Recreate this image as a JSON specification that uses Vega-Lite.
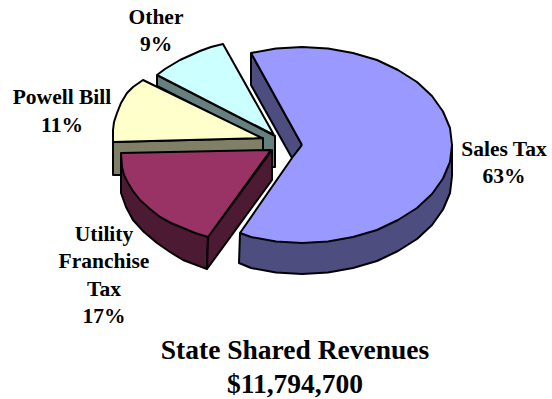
{
  "$schema": "https://vega.github.io/schema/vega-lite/v6.json",
  "width": 552,
  "height": 399,
  "padding": 0,
  "autosize": "none",
  "background": "white",
  "view": {"stroke": null},
  "datasets": {
    "outlines": [
      {"part":"Other wall","seq":1,"x":157,"y":75},{"part":"Other wall","seq":2,"x":157,"y":86},{"part":"Other wall","seq":3,"x":263,"y":140},{"part":"Other wall","seq":4,"x":263,"y":167},{"part":"Other wall","seq":5,"x":275,"y":167},{"part":"Other wall","seq":6,"x":275,"y":136},{"part":"Other wall","seq":7,"x":157,"y":75},
      {"part":"Other","seq":1,"x":274,"y":135},{"part":"Other","seq":2,"x":223,"y":44},{"part":"Other","seq":3,"x":211,"y":47},{"part":"Other","seq":4,"x":200,"y":51},{"part":"Other","seq":5,"x":180,"y":60},{"part":"Other","seq":6,"x":165,"y":69},{"part":"Other","seq":7,"x":157,"y":75},{"part":"Other","seq":8,"x":274,"y":135},
      {"part":"Powell Bill wall","seq":1,"x":113,"y":142},{"part":"Powell Bill wall","seq":2,"x":113,"y":175},{"part":"Powell Bill wall","seq":3,"x":263,"y":175},{"part":"Powell Bill wall","seq":4,"x":263,"y":138},{"part":"Powell Bill wall","seq":5,"x":113,"y":142},
      {"part":"Powell Bill","seq":1,"x":262,"y":138},{"part":"Powell Bill","seq":2,"x":143,"y":80},{"part":"Powell Bill","seq":3,"x":133,"y":87},{"part":"Powell Bill","seq":4,"x":127,"y":93},{"part":"Powell Bill","seq":5,"x":121,"y":103},{"part":"Powell Bill","seq":6,"x":117,"y":113},{"part":"Powell Bill","seq":7,"x":114,"y":122},{"part":"Powell Bill","seq":8,"x":113,"y":130},{"part":"Powell Bill","seq":9,"x":113,"y":142},{"part":"Powell Bill","seq":10,"x":262,"y":138},
      {"part":"Utility rim","seq":1,"x":121,"y":153},{"part":"Utility rim","seq":2,"x":121,"y":193},{"part":"Utility rim","seq":3,"x":126,"y":207},{"part":"Utility rim","seq":4,"x":133,"y":220},{"part":"Utility rim","seq":5,"x":144,"y":232},{"part":"Utility rim","seq":6,"x":157,"y":243},{"part":"Utility rim","seq":7,"x":170,"y":252},{"part":"Utility rim","seq":8,"x":183,"y":260},{"part":"Utility rim","seq":9,"x":207,"y":269},{"part":"Utility rim","seq":10,"x":208,"y":237},{"part":"Utility rim","seq":11,"x":121,"y":153},
      {"part":"Utility wall","seq":1,"x":208,"y":237},{"part":"Utility wall","seq":2,"x":207,"y":269},{"part":"Utility wall","seq":3,"x":272,"y":180},{"part":"Utility wall","seq":4,"x":272,"y":150},{"part":"Utility wall","seq":5,"x":208,"y":237},
      {"part":"Utility Franchise Tax","seq":1,"x":271,"y":150},{"part":"Utility Franchise Tax","seq":2,"x":208,"y":237},{"part":"Utility Franchise Tax","seq":3,"x":195,"y":233},{"part":"Utility Franchise Tax","seq":4,"x":183,"y":228},{"part":"Utility Franchise Tax","seq":5,"x":171,"y":223},{"part":"Utility Franchise Tax","seq":6,"x":160,"y":217},{"part":"Utility Franchise Tax","seq":7,"x":150,"y":209},{"part":"Utility Franchise Tax","seq":8,"x":140,"y":200},{"part":"Utility Franchise Tax","seq":9,"x":133,"y":191},{"part":"Utility Franchise Tax","seq":10,"x":128,"y":183},{"part":"Utility Franchise Tax","seq":11,"x":124,"y":175},{"part":"Utility Franchise Tax","seq":12,"x":122,"y":167},{"part":"Utility Franchise Tax","seq":13,"x":121,"y":153},{"part":"Utility Franchise Tax","seq":14,"x":271,"y":150},
      {"part":"Sales Tax wall","seq":1,"x":251,"y":53},{"part":"Sales Tax wall","seq":2,"x":251,"y":85},{"part":"Sales Tax wall","seq":3,"x":292,"y":158},{"part":"Sales Tax wall","seq":4,"x":302,"y":145},{"part":"Sales Tax wall","seq":5,"x":251,"y":53},
      {"part":"Sales Tax rim","seq":1,"x":240,"y":233},{"part":"Sales Tax rim","seq":2,"x":239,"y":263},{"part":"Sales Tax rim","seq":3,"x":251,"y":268},{"part":"Sales Tax rim","seq":4,"x":276,"y":272.5},{"part":"Sales Tax rim","seq":5,"x":302,"y":274},{"part":"Sales Tax rim","seq":6,"x":328,"y":272.5},{"part":"Sales Tax rim","seq":7,"x":353,"y":268},{"part":"Sales Tax rim","seq":8,"x":377,"y":261},{"part":"Sales Tax rim","seq":9,"x":398,"y":251},{"part":"Sales Tax rim","seq":10,"x":417,"y":239},{"part":"Sales Tax rim","seq":11,"x":432,"y":225},{"part":"Sales Tax rim","seq":12,"x":443,"y":209.5},{"part":"Sales Tax rim","seq":13,"x":450,"y":193},{"part":"Sales Tax rim","seq":14,"x":452,"y":176},{"part":"Sales Tax rim","seq":15,"x":452,"y":145},{"part":"Sales Tax rim","seq":16,"x":240,"y":233},
      {"part":"Sales Tax","seq":1,"x":302,"y":145},{"part":"Sales Tax","seq":2,"x":251,"y":53},{"part":"Sales Tax","seq":3,"x":276,"y":48.5},{"part":"Sales Tax","seq":4,"x":302,"y":47},{"part":"Sales Tax","seq":5,"x":328,"y":48.5},{"part":"Sales Tax","seq":6,"x":353,"y":53},{"part":"Sales Tax","seq":7,"x":377,"y":60},{"part":"Sales Tax","seq":8,"x":398,"y":70},{"part":"Sales Tax","seq":9,"x":417,"y":82},{"part":"Sales Tax","seq":10,"x":432,"y":96},{"part":"Sales Tax","seq":11,"x":443,"y":111.5},{"part":"Sales Tax","seq":12,"x":450,"y":128},{"part":"Sales Tax","seq":13,"x":452,"y":145},{"part":"Sales Tax","seq":14,"x":450,"y":162},{"part":"Sales Tax","seq":15,"x":443,"y":178.5},{"part":"Sales Tax","seq":16,"x":432,"y":194},{"part":"Sales Tax","seq":17,"x":417,"y":208},{"part":"Sales Tax","seq":18,"x":398,"y":220},{"part":"Sales Tax","seq":19,"x":377,"y":230},{"part":"Sales Tax","seq":20,"x":353,"y":237},{"part":"Sales Tax","seq":21,"x":328,"y":241.5},{"part":"Sales Tax","seq":22,"x":302,"y":243},{"part":"Sales Tax","seq":23,"x":276,"y":241.5},{"part":"Sales Tax","seq":24,"x":251,"y":237},{"part":"Sales Tax","seq":25,"x":240,"y":233},{"part":"Sales Tax","seq":26,"x":292,"y":158},{"part":"Sales Tax","seq":27,"x":302,"y":145}
    ],
    "labels": [
      {"text":"Other","x":156,"y":18},{"text":"9%","x":156,"y":45},
      {"text":"Powell Bill","x":62,"y":98},{"text":"11%","x":62,"y":126},
      {"text":"Utility","x":104,"y":235},{"text":"Franchise","x":104,"y":262},{"text":"Tax","x":104,"y":290},{"text":"17%","x":104,"y":317},
      {"text":"Sales Tax","x":504,"y":150},{"text":"63%","x":504,"y":177}
    ],
    "headline": [
      {"text":"State Shared Revenues","x":295,"y":351},
      {"text":"$11,794,700","x":295,"y":385}
    ]
  },
  "layer": [
    {
      "data": {"name": "outlines"},
      "mark": {"type": "line", "stroke": "black", "strokeWidth": 2, "strokeJoin": "round", "clip": false},
      "encoding": {
        "x": {"field": "x", "type": "quantitative", "scale": {"domain": [0, 552]}, "axis": null},
        "y": {"field": "y", "type": "quantitative", "scale": {"domain": [399, 0]}, "axis": null},
        "order": {"field": "seq", "type": "quantitative"},
        "fill": {
          "field": "part",
          "type": "nominal",
          "legend": null,
          "sort": null,
          "scale": {
            "domain": ["Other wall","Other","Powell Bill wall","Powell Bill","Utility rim","Utility wall","Utility Franchise Tax","Sales Tax wall","Sales Tax rim","Sales Tax"],
            "range": ["#668080","#CCFFFF","#808066","#FFFFCC","#4D1A33","#4D1A33","#993366","#4D4D80","#4D4D80","#9999FF"]
          }
        }
      }
    },
    {
      "data": {"name": "labels"},
      "mark": {"type": "text", "font": "Liberation Serif", "fontWeight": "bold", "fontSize": 21.5, "color": "black", "baseline": "middle", "align": "center"},
      "encoding": {
        "x": {"field": "x", "type": "quantitative", "scale": {"domain": [0, 552]}, "axis": null},
        "y": {"field": "y", "type": "quantitative", "scale": {"domain": [399, 0]}, "axis": null},
        "text": {"field": "text"}
      }
    },
    {
      "data": {"name": "headline"},
      "mark": {"type": "text", "font": "Liberation Serif", "fontWeight": "bold", "fontSize": 27.5, "color": "black", "baseline": "middle", "align": "center"},
      "encoding": {
        "x": {"field": "x", "type": "quantitative", "scale": {"domain": [0, 552]}, "axis": null},
        "y": {"field": "y", "type": "quantitative", "scale": {"domain": [399, 0]}, "axis": null},
        "text": {"field": "text"}
      }
    }
  ]
}
